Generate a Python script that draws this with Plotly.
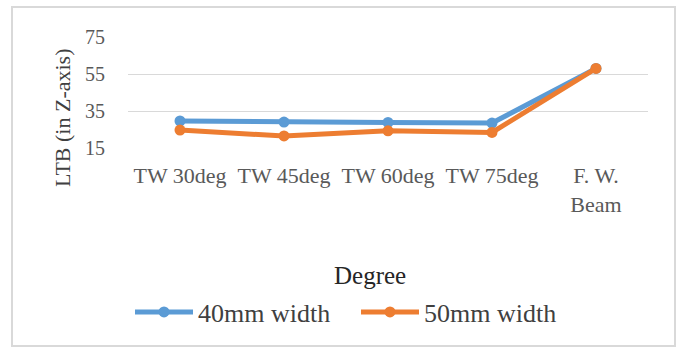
import plotly.graph_objects as go

# Lateral torsional buckling results per web configuration
categories = ["TW 30deg", "TW 45deg", "TW 60deg", "TW 75deg", "F. W.<br>Beam"]
width_40mm = [29.6, 29.0, 28.8, 28.5, 58.0]
width_50mm = [24.7, 21.5, 24.3, 23.4, 58.0]
y_ticks = [15, 35, 55, 75]

BLUE = "#5B9BD5"
ORANGE = "#ED7D31"
FONT = "'Liberation Serif', 'DejaVu Serif', 'Times New Roman', serif"

fig = go.Figure()
fig.add_trace(go.Scatter(
    x=categories, y=width_40mm, name="40mm width", mode="lines+markers",
    line=dict(color=BLUE, width=5), marker=dict(color=BLUE, size=11),
))
fig.add_trace(go.Scatter(
    x=categories, y=width_50mm, name="50mm width", mode="lines+markers",
    line=dict(color=ORANGE, width=5), marker=dict(color=ORANGE, size=11),
))

# pixel geometry of the plotting area
W, H = 679, 349
L, R, T, B = 128, 31, 37, 201
pw, ph = W - L - R, H - T - B


def px(x):
    return (x - L) / pw


def py(y):
    return (H - B - y) / ph


fig.update_layout(
    width=W, height=H,
    margin=dict(l=L, r=R, t=T, b=B, pad=0),
    paper_bgcolor="white", plot_bgcolor="white",
    font=dict(family=FONT, color="#595959"),
    showlegend=True,
    legend=dict(
        orientation="h", x=px(130), y=py(312), xanchor="left", yanchor="middle",
        font=dict(size=26, color="#404040", family=FONT),
        itemwidth=58, entrywidth=153, entrywidthmode="pixels",
        bgcolor="rgba(0,0,0,0)",
    ),
    xaxis=dict(
        type="category", range=[-0.5, 4.5], showgrid=False, zeroline=False,
        showline=False, ticks="",
        tickfont=dict(size=22, color="#595959", family=FONT),
        ticklabelstandoff=12,
    ),
    yaxis=dict(
        range=[15, 75], tickvals=y_ticks, showgrid=True, gridcolor="#D9D9D9",
        gridwidth=1, zeroline=False, showline=False, ticks="",
        tickfont=dict(size=20, color="#595959", family=FONT),
        ticklabelstandoff=22,
    ),
    shapes=[dict(
        type="rect", xref="paper", yref="paper",
        x0=px(12), x1=px(675), y0=py(346), y1=py(7),
        line=dict(color="#D9D9D9", width=2), fillcolor="rgba(0,0,0,0)",
        layer="below",
    )],
    annotations=[
        dict(text="LTB (in Z-axis)", xref="paper", yref="paper",
             x=px(62), y=py(118), showarrow=False, textangle=-90,
             xanchor="center", yanchor="middle",
             font=dict(size=22, color="#404040", family=FONT)),
        dict(text="Degree", xref="paper", yref="paper",
             x=px(370), y=py(275), showarrow=False,
             xanchor="center", yanchor="middle",
             font=dict(size=25, color="#262626", family=FONT)),
    ],
)

fig.write_html("out.html")
